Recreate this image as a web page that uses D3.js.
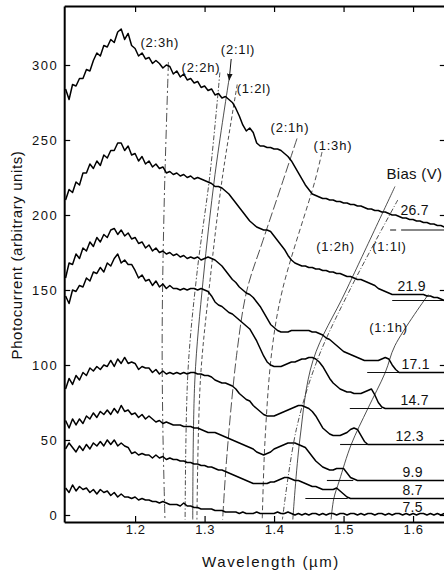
<!DOCTYPE html>
<html><head><meta charset="utf-8">
<script src="https://cdn.jsdelivr.net/npm/d3@7"></script>
<style>
html,body{margin:0;padding:0;background:#fff}
svg{display:block}
text{font-family:"Liberation Sans",Arial,sans-serif;fill:#111}
</style>
</head><body>
<svg id="c" width="444" height="575"></svg>
<script>
// ---------- DATA ----------
const wavelength = [
1.100,1.105,1.110,1.115,1.120,1.125,1.130,1.135,1.140,1.145,
1.150,1.155,1.160,1.165,1.170,1.175,1.180,1.185,1.190,1.195,
1.200,1.205,1.210,1.215,1.220,1.225,1.230,1.235,1.240,1.245,
1.250,1.255,1.260,1.265,1.270,1.275,1.280,1.285,1.290,1.295,
1.300,1.305,1.310,1.315,1.320,1.325,1.330,1.335,1.340,1.345,
1.350,1.355,1.360,1.365,1.370,1.375,1.380,1.385,1.390,1.395,
1.400,1.405,1.410,1.415,1.420,1.425,1.430,1.435,1.440,1.445,
1.450,1.455,1.460,1.465,1.470,1.475,1.480,1.485,1.490,1.495,
1.500,1.505,1.510,1.515,1.520,1.525,1.530,1.535,1.540,1.545,
1.550,1.555,1.560,1.565,1.570,1.575,1.580,1.585,1.590,1.595,
1.600,1.605,1.610,1.615,1.620,1.625,1.630,1.635,1.640,1.645];

const biasLabels = ["26.7","21.9","17.1","14.7","12.3","9.9","8.7","7.5"];

const bias267 = [
284,277,287,286,291,291,297,296,303,308,
306,313,312,317,315,322,324,317,321,313,
311,306,308,304,305,301,303,301,298,300,
299,294,296,292,294,290,291,288,289,285,
286,283,284,280,281,278,279,277,275,271,
266,260,256,258,255,248,246,246,245,245,
244,244,243,241,239,236,232,228,224,220,
217,214,213,212,211,211,210,210,209,209,
208,208,207,207,206,206,205,204,204,203,
203,202,202,201,200,200,199,198,198,197,
197,196,196,195,195,194,194,193,193,192];

const bias219 = [
210,217,215,222,220,228,228,234,231,236,
233,240,238,243,243,248,248,243,246,240,
241,236,239,234,236,232,234,231,232,228,
229,227,228,226,227,225,226,224,225,224,
223,222,221,219,219,218,216,214,211,208,
205,202,199,196,194,192,191,190,190,189,
186,183,180,177,173,170,168,167,166,166,
165,165,164,164,163,163,162,162,161,161,
160,159,159,158,157,157,156,155,154,153,
151,150,149,148,147,147,147,147,147,147,
147,147,147,147,146,146,145,145,144,143];

const bias171 = [
158,168,167,174,171,178,176,182,179,185,
182,187,185,190,191,187,190,186,188,184,
185,181,182,178,180,176,178,175,176,174,
175,173,174,172,173,171,172,171,172,170,
171,172,171,170,168,166,163,160,157,155,
152,150,148,147,145,142,139,135,131,127,
125,123,122,122,122,123,123,123,123,123,
123,122,122,121,120,118,117,115,113,111,
109,108,107,106,105,104,103,103,103,103,
103,104,105,104,100,97,95,95,95,95,
95,95,95,95,95,95,95,95,95,95];

const bias147 = [
146,141,150,149,153,152,158,156,162,161,
165,162,168,166,171,174,168,170,167,167,
163,158,160,156,157,153,156,152,154,151,
153,151,151,150,151,150,151,151,150,151,
150,149,146,142,140,139,137,135,134,132,
130,128,126,124,120,116,111,106,102,100,
99,99,99,100,101,102,102,103,104,104,
105,105,104,102,99,95,91,88,86,84,
83,82,82,81,81,81,82,83,84,80,
75,72,71,71,71,71,71,71,71,71,
71,71,71,71,71,71,71,71,71,71];

const bias123 = [
84,91,87,93,90,95,93,98,96,99,
97,100,99,103,99,104,101,105,101,102,
101,97,99,98,98,95,97,94,96,94,
95,94,95,94,95,94,95,95,94,94,
93,93,92,90,89,88,88,87,86,84,
81,79,77,76,73,71,69,67,66,66,
66,67,68,69,70,71,72,73,73,72,
71,69,66,62,58,56,54,53,53,53,
54,55,57,58,57,53,49,47,47,47,
47,47,47,47,47,47,47,47,47,47,
47,47,47,47,47,47,47,47,47,47];

const bias99 = [
63,58,64,60,64,61,66,64,68,65,
69,67,70,67,71,68,73,69,70,67,
68,65,67,64,66,64,62,63,61,62,
61,60,60,60,59,59,59,58,58,57,
56,55,55,55,54,53,52,51,50,49,
48,47,46,45,44,42,41,40,41,42,
44,45,46,47,48,48,48,47,46,45,
42,39,36,34,32,31,30,30,31,31,
31,28,25,24,23,23,23,23,23,23,
23,23,23,23,23,23,23,23,23,23,
23,23,23,23,23,23,23,23,23,23];

const bias87 = [
44,48,45,42,46,43,47,44,48,46,
49,46,50,47,50,46,48,46,45,41,
42,40,41,40,40,38,40,38,39,37,
38,37,37,36,36,35,35,34,34,33,
33,32,32,31,30,30,29,28,27,26,
25,24,23,22,21,21,21,21,21,22,
22,23,24,25,25,24,23,23,22,21,
20,19,19,18,17,17,17,17,18,16,
14,12,11,11,11,11,11,11,11,11,
11,11,11,11,11,11,11,11,11,11,
11,11,11,11,11,11,11,11,11,11];

const bias75 = [
18,15,20,16,19,17,18,15,17,14,
17,15,16,13,15,12,14,12,12,11,
12,10,11,10,10,9,9,8,9,8,
7,7,7,6,8,6,6,5,5,4,
4,4,4,3,3,3,2,2,2,2,
1,2,1,1,1,2,1,1,1,1,
1,2,1,1,2,1,0,1,0,1,
0,1,1,0,1,0,1,1,0,1,
1,0,1,1,0,1,0,1,1,0,
1,1,0,1,0,1,1,0,1,0,
1,0,1,1,0,1,0,1,0,1];

// horizontal reference levels at the (1:1h) crossing
const refLevel = [190,143,95,71,47,23,11];
const refFrom  = [1.567,1.570,1.534,1.509,1.495,1.476,1.445];
const refTo    = [1.645,1.645,1.581,1.555,1.534,1.514,1.506];

// transition traces [wavelength, photocurrent]
const t23h = [[1.248,302],[1.242,210],[1.239,123],[1.240,57],[1.243,-3]];
const t22h = [[1.322,295],[1.308,228],[1.289,161],[1.276,95],[1.272,-3]];
const t21l = [[1.335,290],[1.315,227],[1.298,157],[1.286,90],[1.283,-3]];
const t12l = [[1.347,287],[1.325,223],[1.308,157],[1.294,90],[1.289,-3]];
const t21h = [[1.433,251],[1.413,223],[1.384,183],[1.361,150],[1.347,110],[1.332,39],[1.326,-3]];
const t13h = [[1.469,242],[1.459,223],[1.412,150],[1.397,110],[1.387,50],[1.383,-3]];
const t12h = [[1.574,219],[1.504,150],[1.456,103],[1.437,50],[1.427,-3]];
const t11l = [[1.578,210],[1.509,150],[1.462,103],[1.432,57],[1.412,-3]];
const t11h = [[1.622,147],[1.574,113],[1.560,95],[1.535,71],[1.511,47],[1.494,23],[1.486,11],[1.482,-3]];

const yTicks = [0,50,100,150,200,250,300];
const xTicks = [1.2,1.3,1.4,1.5,1.6];

// ---------- DRAW ----------
const svg = d3.select("#c");
const x = d3.scaleLinear().domain([1.098,1.65]).range([64.2,447.8]);
const y = d3.scaleLinear().domain([-4.67,339.33]).range([522,6]);

svg.append("rect").attr("width",444).attr("height",575).attr("fill","#fff");

const defs = svg.append("defs");
defs.append("clipPath").attr("id","clip").append("rect")
  .attr("x",x.range()[0]).attr("y",6).attr("width",x.range()[1]-x.range()[0]).attr("height",516);
defs.append("marker").attr("id","arr").attr("viewBox","0 0 10 10").attr("refX",9).attr("refY",5)
  .attr("markerWidth",7).attr("markerHeight",7).attr("orient","auto")
  .append("path").attr("d","M0,1 L10,5 L0,9 z").attr("fill","#111");

const plot = svg.append("g").attr("clip-path","url(#clip)");

// transition lines
const tLine = d3.line().x(d=>x(d[0])).y(d=>y(d[1])).curve(d3.curveCatmullRom);
const trans = [
  {d:t23h, dash:"9,3,2,3"},
  {d:t22h, dash:"5,2,1.5,2"},
  {d:t21l, dash:null},
  {d:t12l, dash:"4,2.5"},
  {d:t21h, dash:"10,3"},
  {d:t13h, dash:"5,3"},
  {d:t12h, dash:null},
  {d:t11l, dash:"5,2,1,2"},
  {d:t11h, dash:null}
];
trans.forEach(t=>{
  plot.append("path").attr("d",tLine(t.d)).attr("fill","none")
    .attr("stroke","#222").attr("stroke-width",0.8)
    .attr("stroke-dasharray",t.dash);
});

// reference segments
refLevel.forEach((v,i)=>{
  plot.append("line").attr("x1",x(refFrom[i])).attr("x2",x(refTo[i]))
    .attr("y1",y(v)).attr("y2",y(v)).attr("stroke","#111").attr("stroke-width",1.1)
    .attr("stroke-dasharray", i===0 ? "6,5,80" : null);
});

// spectra
const series = [bias267,bias219,bias171,bias147,bias123,bias99,bias87,bias75];
const sLine = d3.line().x((d,i)=>x(wavelength[i])).y(d=>y(d));
series.forEach(s=>{
  plot.append("path").attr("d",sLine(s)).attr("fill","none")
    .attr("stroke","#000").attr("stroke-width",1.5).attr("stroke-linejoin","round");
});

// arrow for (2:1l)
svg.append("line").attr("x1",x(1.3383)).attr("y1",y(304)).attr("x2",x(1.3354)).attr("y2",y(290))
  .attr("stroke","#111").attr("stroke-width",1).attr("marker-end","url(#arr)");

// axes
const fmt = d3.format(".1f");
const gL = svg.append("g").attr("transform",`translate(${x.range()[0]},0)`)
  .call(d3.axisLeft(y).tickValues(yTicks).tickSizeInner(-6).tickSizeOuter(0).tickPadding(6));
const gB = svg.append("g").attr("transform","translate(0,522)")
  .call(d3.axisBottom(x).tickValues(xTicks).tickFormat(fmt).tickSizeInner(-6).tickSizeOuter(0).tickPadding(3));
const gT = svg.append("g").attr("transform","translate(0,6)")
  .call(d3.axisTop(x).tickValues(xTicks).tickSizeInner(-6).tickSizeOuter(0).tickFormat(""));
const gR = svg.append("g").attr("transform",`translate(${x.range()[1]},0)`)
  .call(d3.axisRight(y).tickValues(yTicks).tickSizeInner(-8).tickSizeOuter(0).tickFormat(""));
[gL,gB,gT,gR].forEach(g=>{
  g.select(".domain").attr("stroke","#000").attr("stroke-width",2);
  g.selectAll(".tick line").attr("stroke","#000").attr("stroke-width",1.2);
  g.selectAll(".tick text").attr("font-family","Liberation Sans, Arial, sans-serif")
    .attr("font-size",13).attr("fill","#111").attr("letter-spacing",0.6);
});
gL.selectAll(".tick text").attr("letter-spacing",1.5);

// axis titles
svg.append("text").attr("transform","translate(22,255) rotate(-90)").attr("text-anchor","middle")
  .attr("font-size",15).attr("letter-spacing",0.6).text("Photocurrent (arbitrary units)");
svg.append("text").attr("x",271).attr("y",567).attr("text-anchor","middle")
  .attr("font-size",15).attr("letter-spacing",1.6).text("Wavelength (µm)");

// transition labels
const tl = [
  ["(2:3h)",1.2356,312,"middle"],
  ["(2:2h)",1.2948,295,"middle"],
  ["(2:1l)",1.3481,307,"middle"],
  ["(1:2l)",1.3710,281,"middle"],
  ["(2:1h)",1.4228,255,"middle"],
  ["(1:3h)",1.4847,243,"middle"],
  ["(1:2h)",1.4885,176,"middle"],
  ["(1:1l)",1.5659,176,"middle"],
  ["(1:1h)",1.5647,122,"middle"]
];
tl.forEach(t=>{
  svg.append("text").attr("x",x(t[1])).attr("y",y(t[2])).attr("text-anchor",t[3])
    .attr("font-size",13).attr("letter-spacing",0.8).text(t[0]);
});
svg.append("text").attr("x",x(1.5618)).attr("y",y(224)).attr("font-size",15)
  .attr("letter-spacing",0.3).text("Bias (V)");

// bias labels
const bl = [[1.5818,200],[1.5775,149],[1.5833,97],[1.5818,73],[1.5746,49],[1.5847,25],[1.5847,13],[1.5847,2]];
biasLabels.forEach((b,i)=>{
  svg.append("text").attr("x",x(bl[i][0])).attr("y",y(bl[i][1])).attr("font-size",14)
    .attr("letter-spacing",0.3).text(b);
});
</script>
</body></html>
